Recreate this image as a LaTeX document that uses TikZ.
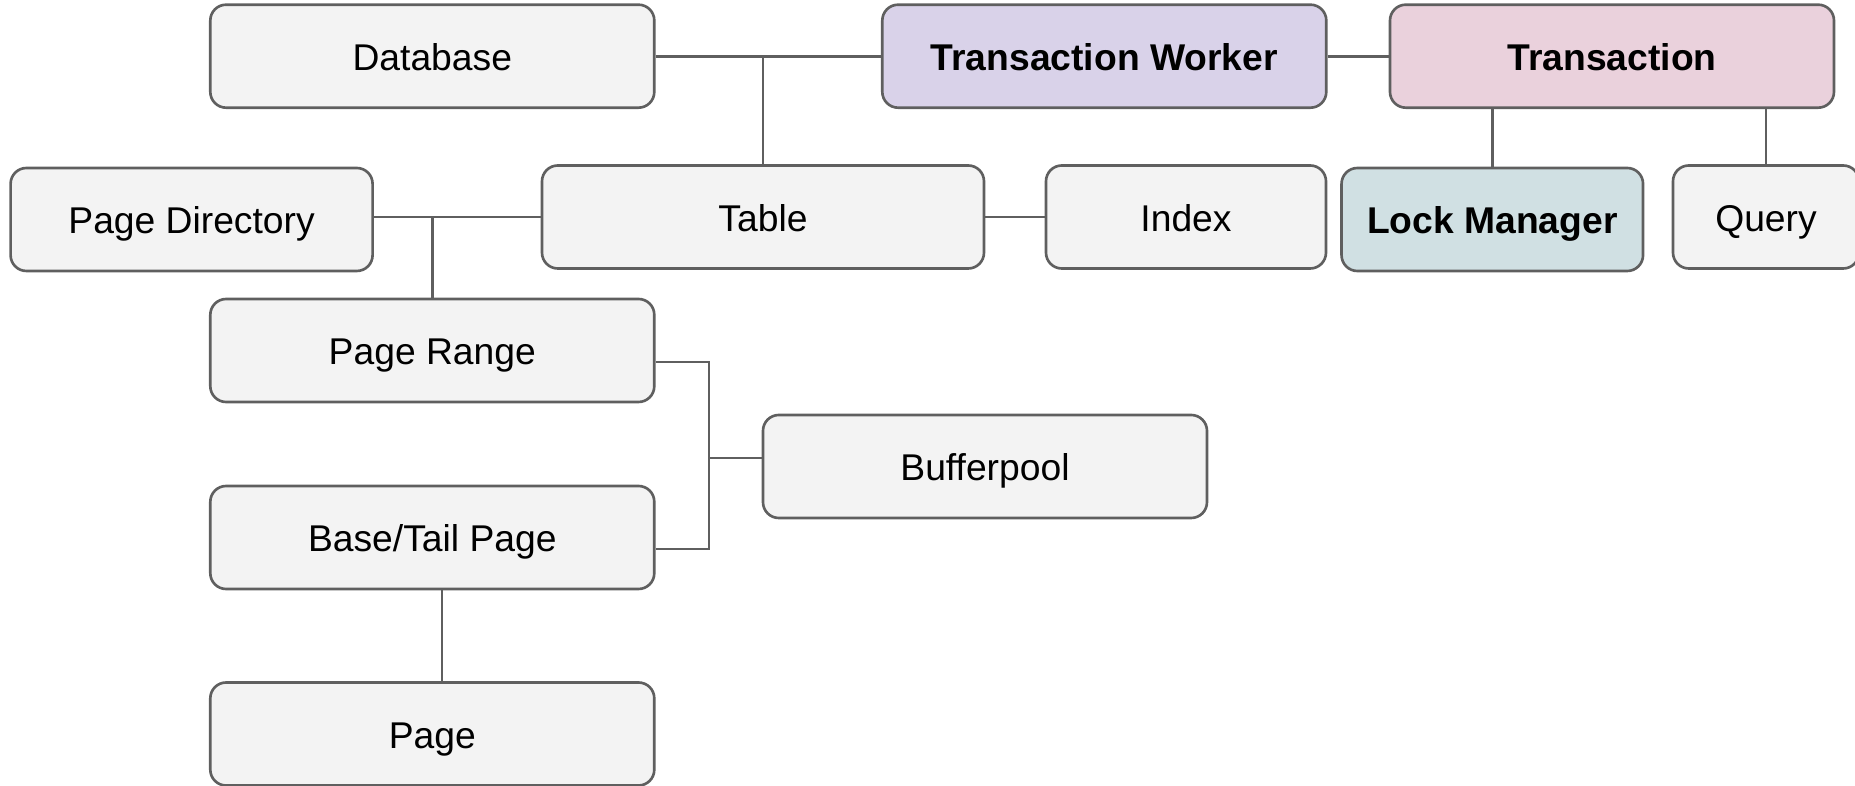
\documentclass[tikz,border=0pt]{standalone}
\usepackage{fontspec}
\setmainfont{Liberation Sans}

\definecolor{boxfill}{HTML}{F3F3F3}
\definecolor{workerfill}{HTML}{D9D2E9}
\definecolor{txnfill}{HTML}{EAD1DC}
\definecolor{lockfill}{HTML}{D0E0E3}
\definecolor{edge}{HTML}{5F5F5F}

\begin{document}
\begin{tikzpicture}[
    blok/.style={draw=edge, line width=0.75pt, fill=boxfill, rounded corners=4.5pt,
      minimum width=4.44cm, minimum height=1.03cm, inner sep=0pt,
      text height=0.8em, text depth=0pt,
      font=\fontsize{10.6pt}{12pt}\selectfont},
    lijn/.style={draw=edge, line width=0.75pt}
  ]

    \useasboundingbox (0,0) rectangle (18.55,-7.86);

    % bovenste rij
    \node[blok] (db) at (4.323,-0.562) {Database};
    \node[blok, fill=workerfill, font=\fontsize{10.6pt}{12pt}\selectfont\bfseries]
      (worker) at (11.043,-0.562) {Transaction Worker};
    \node[blok, fill=txnfill, font=\fontsize{10.6pt}{12pt}\selectfont\bfseries]
      (txn) at (16.12,-0.562) {Transaction};

    % tweede rij
    \node[blok, minimum width=3.62cm] (pdir) at (1.916,-2.195) {Page Directory};
    \node[blok, minimum width=4.42cm] (table) at (7.63,-2.17) {Table};
    \node[blok, minimum width=2.80cm] (index) at (11.86,-2.17) {Index};
    \node[blok, fill=lockfill, minimum width=3.015cm,
      font=\fontsize{10.6pt}{12pt}\selectfont\bfseries]
      (lock) at (14.923,-2.195) {Lock Manager};
    \node[blok, minimum width=1.86cm] (query) at (17.66,-2.17) {Query};

    % pagina's
    \node[blok] (prange) at (4.323,-3.505) {Page Range};
    \node[blok] (btpage) at (4.323,-5.375) {Base/Tail Page};
    \node[blok] (page) at (4.323,-7.34) {Page};
    \node[blok] (bpool) at (9.85,-4.665) {Bufferpool};

    % verbindingen bovenaan
    \coordinate (dbknik) at (table.north |- db.east);
    \draw[lijn] (db.east) -- (worker.west);
    \draw[lijn] (table.north) -- (dbknik);
    \draw[lijn] (worker.east) -- (txn.west);
    \draw[lijn] (lock.north) -- (lock.north |- txn.south);
    \draw[lijn] (query.north) -- (query.north |- txn.south);
    \draw[lijn] (table.east) -- (index.west);

    % page directory
    \coordinate (pdknik) at (prange.north |- table.west);
    \draw[lijn] (pdir.east |- table.west) -- (table.west);
    \draw[lijn] (prange.north) -- (pdknik);

    % bufferpool
    \coordinate (bus) at (7.09,-4.58);
    \draw[lijn] ([yshift=-1.15mm]prange.east) -| (bus)
      |- ([yshift=-1.15mm]btpage.east);
    \draw[lijn] (bus) -- (bus -| bpool.west);

    % base/tail naar page
    \draw[lijn] ([xshift=0.97mm]btpage.south) -- ([xshift=0.97mm]page.north);

\end{tikzpicture}
\end{document}
